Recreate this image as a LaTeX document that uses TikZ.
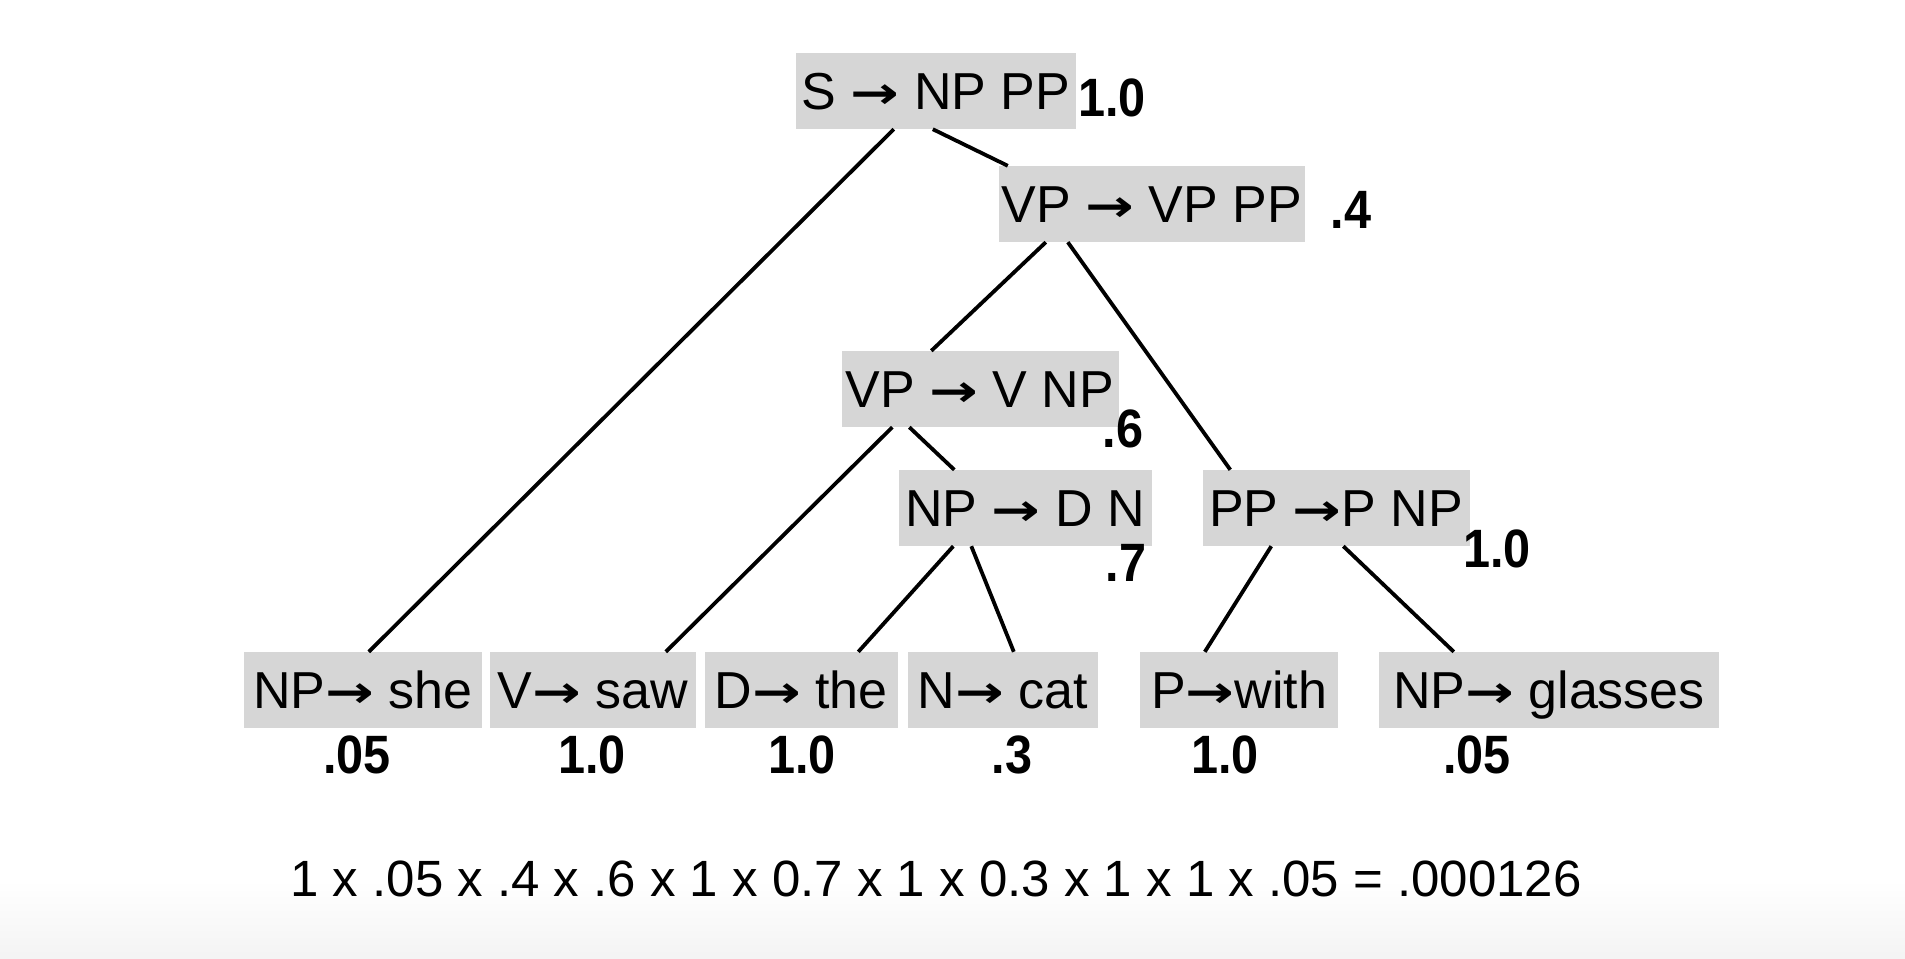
\documentclass[tikz,border=0pt]{standalone}
\usepackage{fontspec}
\setmainfont{Liberation Sans}
\newfontfamily\arrowfont{DejaVu Sans}
\usepackage{graphicx}
\definecolor{boxgray}{RGB}{214,214,214}
\newcommand{\pr}[1]{\scalebox{0.9}[1]{#1}}
\newcommand{\ar}{\raisebox{1pt}{\scalebox{1.12}[0.85]{\arrowfont\bfseries →}}}
\begin{document}
\begin{tikzpicture}[x=1pt,y=-1pt,
  rule/.style={fill=boxgray, inner sep=0pt, minimum height=76pt,
    text height=37pt, text depth=0pt, font=\fontsize{52}{60}\selectfont},
  prob/.style={inner sep=0pt, text height=38pt, text depth=0pt,
    font=\fontsize{54}{60}\selectfont\bfseries},
  branch/.style={line width=3.8pt, black}
]
\useasboundingbox (0,0) rectangle (1905,958);
% soft shadow along the lower edge
\shade[top color=white, bottom color=gray!9] (0,880) rectangle (1905,958);

% inner rules
\node[rule, minimum width=280pt] (s)    at (936,91)  {S \ar{} NP PP};
\node[rule, minimum width=306pt] (vp1)  at (1152,204) {VP \ar{} VP PP};
\node[rule, minimum width=277pt] (vp2)  at (980,389) {VP \ar{} V NP};
\node[rule, minimum width=253pt] (np)   at (1025,508) {NP \ar{} D N};
\node[rule, minimum width=267pt] (pp)   at (1336,508) {PP \ar{}P NP};

% lexical rules
\node[rule, minimum width=238pt] (she)  at (363,690)  {NP\ar{} she};
\node[rule, minimum width=206pt] (saw)  at (593,690)  {V\ar{} saw};
\node[rule, minimum width=193pt] (the)  at (801,690)  {D\ar{} the};
\node[rule, minimum width=190pt] (cat)  at (1003,690) {N\ar{} cat};
\node[rule, minimum width=198pt] (with) at (1239,690) {P\ar{}with};
\node[rule, minimum width=340pt] (gls)  at (1549,690) {NP\ar{} glasses};

% rule probabilities
\node[prob] (ps)    at (1112,97)  {\pr{1.0}};
\node[prob] (pvp1)  at (1351,209) {\pr{.4}};
\node[prob] (pvp2)  at (1123,428) {\pr{.6}};
\node[prob] (pnp)   at (1126,562) {\pr{.7}};
\node[prob] (ppp)   at (1497,548) {\pr{1.0}};
\node[prob] (pshe)  at (357,754)  {\pr{.05}};
\node[prob] (psaw)  at (592,754)  {\pr{1.0}};
\node[prob] (pthe)  at (802,754)  {\pr{1.0}};
\node[prob] (pcat)  at (1012,754) {\pr{.3}};
\node[prob] (pwith) at (1225,754) {\pr{1.0}};
\node[prob] (pgls)  at (1477,754) {\pr{.05}};

% tree branches
\draw[branch] ([xshift=98pt]s.south west)    -- ([xshift=125pt]she.north west);
\draw[branch] ([xshift=137pt]s.south west)   -- ([xshift=9pt]vp1.north west);
\draw[branch] ([xshift=47pt]vp1.south west)  -- ([xshift=90pt]vp2.north west);
\draw[branch] ([xshift=69pt]vp1.south west)  -- ([xshift=28pt]pp.north west);
\draw[branch] ([xshift=51pt]vp2.south west)  -- ([xshift=176pt]saw.north west);
\draw[branch] ([xshift=68pt]vp2.south west)  -- ([xshift=56pt]np.north west);
\draw[branch] ([xshift=55pt]np.south west)   -- ([xshift=154pt]the.north west);
\draw[branch] ([xshift=73pt]np.south west)   -- ([xshift=106pt]cat.north west);
\draw[branch] ([xshift=69pt]pp.south west)   -- ([xshift=65pt]with.north west);
\draw[branch] ([xshift=141pt]pp.south west)  -- ([xshift=75pt]gls.north west);

% product of the rule probabilities
\node[inner sep=0pt, text height=37pt, text depth=0pt,
  font=\fontsize{51}{60}\selectfont] (eq) at (936,878)
  {1 x .05 x .4 x .6 x 1 x 0.7 x 1 x 0.3 x 1 x 1 x .05 = .000126};
\end{tikzpicture}
\end{document}
